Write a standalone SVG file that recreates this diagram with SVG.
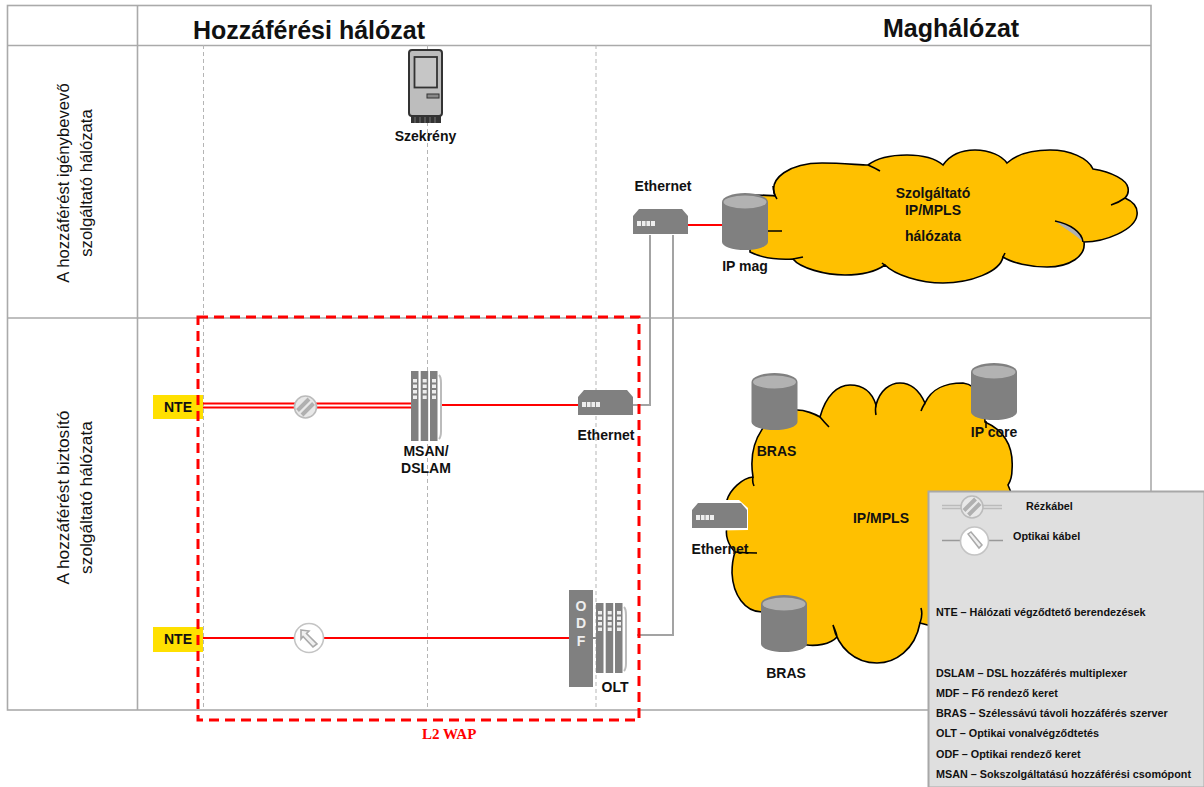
<svg xmlns="http://www.w3.org/2000/svg" width="1204" height="787" viewBox="0 0 1204 787">
<style>
text{font-family:"Liberation Sans",Arial,sans-serif;font-weight:bold;fill:#111}
.lbl{font-size:14px;text-anchor:middle}
.leg{font-size:10.8px}
.vert{font-size:16.700px;font-weight:normal;text-anchor:middle}
.vert2{font-size:17.300px;font-weight:normal;text-anchor:middle}
.head{font-size:25px}
.frame{stroke:#aaa;stroke-width:1.6;fill:none}
.guide{stroke:#b5b5b5;stroke-width:1;stroke-dasharray:4 3;fill:none}
.cloud{fill:#ffc000;stroke:#000;stroke-width:1.6}
.tail{fill:none;stroke:#000;stroke-width:1.6}
.dev{fill:#808080}
.cyltop{fill:#b2b2b2}
.grey{fill:none;stroke:#a3a3a3;stroke-width:2}
.red{fill:none;stroke:#f00;stroke-width:2}
.port{fill:#eee}
.odf{font-size:14px;fill:#eee;text-anchor:middle}
</style>
<defs>
<g id="cyl"><path class="dev" d="M0 9A23 9 0 0 1 46 9V49A23 8 0 0 1 0 49Z"/><ellipse class="cyltop" cx="23" cy="9" rx="21.500" ry="6.500"/></g>
<g id="eth"><path class="dev" d="M0 8L6 1H49L55 8V26H0Z"/><rect class="port" x="4" y="13" width="18" height="5"/><path d="M8.500 13v5M13 13v5M17.500 13v5" stroke="#888" stroke-width="1"/></g>
<g id="rack"><rect class="dev" width="7.500" height="70"/><rect class="dev" x="9.700" width="7.500" height="70"/><rect class="dev" x="19" width="7.500" height="70"/><path d="M28 4Q30 6 30 12V60Q30 66 28 68" fill="none" stroke="#bbb" stroke-width="2"/><path d="M2 8h4v3.500H2zM2 13.500h4v3.500H2zM2 19h4v3.500H2zM2 24.500h4v3.500H2zM11.700 8h4v3.500h-4zM11.700 13.500h4v3.500h-4zM11.700 19h4v3.500h-4zM11.700 24.500h4v3.500h-4zM21 8h4v3.500H21zM21 13.500h4v3.500H21zM21 19h4v3.500H21zM21 24.500h4v3.500H21z" fill="#eee"/></g>
<g id="copper"><circle r="11" fill="#e8e8e8" stroke="#bbb" stroke-width="1.600"/><path d="M-8 3.500L3.500-8M-3.500 8L8-3.500" stroke="#b0b0b0" stroke-width="4" fill="none"/></g>
</defs>

<g id="frame">
<rect class="frame" x="7.500" y="5.500" width="1143.500" height="704.500"/>
<path class="frame" d="M7.500 45.500H1151M7.500 318H1151M137.500 5.500V710"/>
<path class="guide" d="M203.500 45V710M427.500 45V710M596 45V710"/>
<text class="head" x="193" y="38.500">Hozzáférési hálózat</text>
<text class="head" x="883" y="37">Maghálózat</text>
<text class="vert" transform="translate(69 183) rotate(-90)"><tspan x="0" y="0">A hozzáférést igénybevevő</tspan><tspan x="0" y="23">szolgáltató hálózata</tspan></text>
<text class="vert2" transform="translate(69 497.500) rotate(-90)"><tspan x="0" y="0">A hozzáférést biztosító</tspan><tspan x="0" y="23">szolgáltató hálózata</tspan></text>
</g>

<g id="cloud-provider">
<path class="cloud" d="M750 195C760 195 768 195 775 196C768 178 790 163 822 163C842 163 860 165 868 165C877 158 892 155 907 155C923 155 936 159 943 165C950 155 962 150 975 150C990 150 1002 156 1007 163C1017 154 1033 150 1050 150C1070 150 1088 158 1093 169C1112 172 1127 180 1128 188C1129 193 1127 196 1125 198C1134 202 1138 208 1137 215C1135 230 1105 242 1084 242C1086 256 1070 267 1047 267C1030 267 1012 263 1003 257C1000 272 970 283 943 283C920 283 895 275 885 265C875 272 860 275 845 275C825 275 800 268 793 259C775 260 760 257 750 252Z"/>
<path d="M1055 221C1070 224 1082 232 1083 242C1075 234 1065 229 1055 221Z" fill="#b0b0b0"/>
<path class="tail" d="M773 186Q774 195 777 199M768 231H782M868 165Q875 168 880 171M1125 198Q1118 203 1111 205M1055 221C1070 224 1082 232 1083 242M793 259Q798 258 803 257M1003 257Q1004 255 1005 253M885 265Q883 264 882 263"/>
<text class="lbl" x="933" y="198">Szolgáltató</text>
<text class="lbl" x="933" y="215">IP/MPLS</text>
<text class="lbl" x="933" y="241">hálózata</text>
</g>

<g id="cloud-ipmpls">
<path class="cloud" d="M753 477C747 440 768 410 797 410C805 410 815 414 820 417C826 395 838 385 850 385C864 385 872 392 876 405C880 390 890 383 900 383C912 383 920 392 925 403C932 388 945 383 963 383C980 385 985 405 985 422C1003 430 1014 445 1012 470C1012 476 1010 482 1008 485C1020 510 1020 590 1000 610C985 630 950 632 920 623C915 650 895 663 877 663C855 663 838 648 833 625C836 632 837 636 837 637C830 645 815 646 807 645C790 644 775 628 762 612C745 612 733 595 732 573C732 565 733 558 735 552C728 545 725 535 727 527C722 515 722 505 727 500C730 490 742 478 753 477Z"/>
<path class="tail" d="M753 477Q752 482 754 486M820 417Q825 423 829 427M876 405Q875 410 876 415M925 403Q922 408 921 411M920 623Q923 615 921 608"/>
<text class="lbl" x="881" y="523">IP/MPLS</text>
</g>

<g id="connectors">
<path class="grey" d="M650 235V405H632M673 235V635H637"/>
<path class="red" d="M688 225H722"/>
<path d="M203 403.500H411M203 407.500H411" fill="none" stroke="#f00" stroke-width="1.800"/>
<path class="red" d="M441 405H579M203 638H570"/>
<path d="M593 638H597" stroke="#666" stroke-width="1.500"/>
</g>

<g id="node-szekreny">
<rect x="411" y="115" width="30" height="8" fill="#333"/>
<path d="M415 116v7M420 116v7M425 116v7M430 116v7M435 116v7" stroke="#777" stroke-width="1"/>
<rect x="409" y="50" width="33" height="66" rx="3" fill="#bdbdbd" stroke="#333" stroke-width="2"/>
<rect x="414.500" y="57" width="22.500" height="30.500" fill="#c6c6c6" stroke="#333" stroke-width="1.800"/>
<rect x="427" y="94" width="12" height="4" fill="#888" stroke="#333"/>
<text class="lbl" x="425.500" y="141">Szekrény</text>
</g>

<g id="node-ethernet-top"><use href="#eth" x="633" y="208"/><text class="lbl" x="663" y="191">Ethernet</text></g>
<g id="node-ipmag"><use href="#cyl" x="722" y="193"/><text class="lbl" x="745" y="271">IP mag</text></g>
<g id="node-bras1"><use href="#cyl" x="751.500" y="373"/><text class="lbl" x="776.500" y="456">BRAS</text></g>
<g id="node-ipcore"><use href="#cyl" x="971" y="363"/><path d="M986 421V428" stroke="#000" stroke-width="1.500"/><text class="lbl" x="994" y="437">IP core</text></g>
<g id="node-bras2"><use href="#cyl" x="761" y="595"/><text class="lbl" x="786" y="678">BRAS</text></g>
<g id="node-ethernet-left"><path d="M691 531V510L697 500H739L748 508V530Z" fill="#fff"/><use href="#eth" x="692" y="502"/><text class="lbl" x="720" y="554">Ethernet</text></g>
<path class="tail" d="M735 552Q745 553 757 553"/>

<g id="node-nte1"><rect x="153" y="395" width="50" height="24" fill="#ffe000"/><text x="164" y="412" style="font-size:14px">NTE</text></g>
<g id="node-nte2"><rect x="153" y="627" width="50" height="25" fill="#ffe000"/><text x="164" y="644" style="font-size:14px">NTE</text></g>
<g id="node-copper"><use href="#copper" x="305.500" y="407"/></g>
<g id="node-optic"><circle cx="309" cy="638" r="14.500" fill="#fff" stroke="#c4c4c4" stroke-width="1.600"/><path d="M301 630L309 631L306.500 633.500L317 644L313 647L303 636.500L301 639Z" fill="#f0f0f0" stroke="#aaa" stroke-width="1.600"/></g>
<g id="node-msan"><use href="#rack" x="411" y="371"/><text class="lbl" x="426" y="456">MSAN/</text><text class="lbl" x="426" y="473">DSLAM</text></g>
<g id="node-ethernet-access"><use href="#eth" x="578" y="389"/><text class="lbl" x="606" y="440">Ethernet</text></g>
<g id="node-odf"><rect class="dev" x="569" y="590" width="24" height="97"/><text class="odf" x="581" y="611">O</text><text class="odf" x="581" y="628">D</text><text class="odf" x="581" y="646">F</text></g>
<g id="node-olt"><use href="#rack" x="596" y="603"/><text x="615" y="692" style="font-size:14px;text-anchor:middle">OLT</text></g>

<g id="wap">
<rect x="198" y="317" width="441" height="403" fill="none" stroke="#f00" stroke-width="3" stroke-dasharray="10 6"/>
<text x="422" y="739" style="font-family:'Liberation Serif',serif;font-size:15px;fill:#f00">L2 WAP</text>
</g>

<g id="legend">
<rect x="928.500" y="491.500" width="276" height="296" fill="#dfdfdf" stroke="#a8a8a8" stroke-width="2"/>
<path d="M942 505.500H961M942 508.500H961M983 505.500H1002M983 508.500H1002" stroke="#bbb" stroke-width="1.300" fill="none"/>
<use href="#copper" x="972" y="507"/>
<path d="M942 540.500H960M988 540.500H1003" stroke="#999" stroke-width="1.500" fill="none"/>
<circle cx="974.500" cy="541" r="14" fill="#fff" stroke="#c4c4c4" stroke-width="1.600"/>
<path d="M968 534L971 532L982 545L979 548Z" fill="#f0f0f0" stroke="#aaa" stroke-width="1.500"/>
<text class="leg" x="1026" y="510">Rézkábel</text>
<text class="leg" x="1013" y="540">Optikai kábel</text>
<text class="leg" x="936" y="616">NTE – Hálózati végződtető berendezések</text>
<text class="leg" x="936" y="677">DSLAM – DSL hozzáférés multiplexer</text>
<text class="leg" x="936" y="697">MDF – Fő rendező keret</text>
<text class="leg" x="936" y="717">BRAS – Szélessávú távoli hozzáférés szerver</text>
<text class="leg" x="936" y="737">OLT – Optikai vonalvégződtetés</text>
<text class="leg" x="936" y="757.500">ODF – Optikai rendező keret</text>
<text class="leg" x="936" y="777.500">MSAN – Sokszolgáltatású hozzáférési csomópont</text>
</g>
</svg>
